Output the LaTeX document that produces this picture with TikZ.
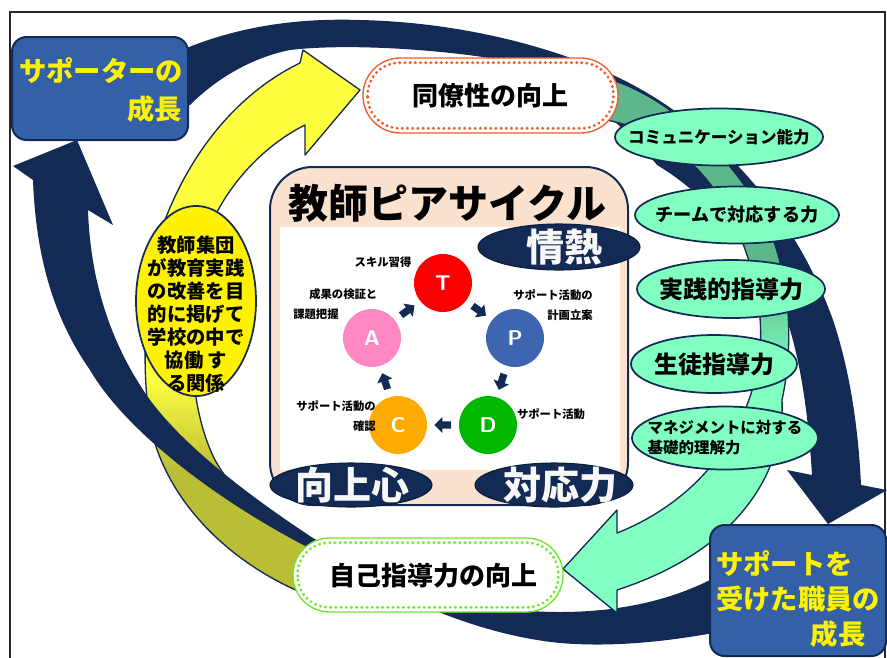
\documentclass[tikz,border=0pt]{standalone}
\usepackage{fontspec}
\setmainfont{Noto Sans CJK JP}[BoldFont={Noto Sans CJK JP Black}]
\usetikzlibrary{shapes.geometric,calc}
\newcommand{\setfs}[2]{\fontsize{#1}{#2}\selectfont}
\definecolor{navy}{RGB}{18,42,84}
\definecolor{boxblue}{RGB}{52,96,168}
\definecolor{peach}{RGB}{251,226,206}
\definecolor{mint}{RGB}{128,255,192}
\definecolor{dkgreen}{RGB}{92,184,138}
\definecolor{ylw}{RGB}{255,255,64}
\definecolor{olv}{RGB}{187,190,52}
\definecolor{orng}{RGB}{240,90,40}
\definecolor{lgreen}{RGB}{110,232,40}
\definecolor{cT}{RGB}{250,0,0}
\definecolor{cP}{RGB}{62,102,176}
\definecolor{cD}{RGB}{0,184,0}
\definecolor{cC}{RGB}{255,170,0}
\definecolor{cA}{RGB}{255,135,195}
\def\navyA{(160,60) .. controls (230,25) and (300,18) .. (360,20) .. controls (450,22) and (540,42) .. (613,75) .. controls (700,115) and (790,200) .. (833,320) .. controls (848,365) and (858,420) .. (861,485) -- (887,490) -- (828,524) -- (787,470) -- (812,475) .. controls (808,410) and (800,360) .. (787,320) .. controls (760,250) and (700,190) .. (657,165) .. controls (620,120) and (560,70) .. (483,57) .. controls (420,48) and (340,44) .. (290,50) .. controls (250,58) and (215,80) .. (190,105) -- (160,105) -- cycle}
\def\navyB{(740,575) -- (710,580) .. controls (670,600) and (620,612) .. (560,612) .. controls (470,612) and (380,585) .. (313,538) .. controls (240,490) and (170,435) .. (140,385) .. controls (105,330) and (90,270) .. (88,210) -- (113,225) -- (77,140) -- (13,166) -- (33,180) .. controls (36,260) and (55,320) .. (90,370) .. controls (125,430) and (215,500) .. (313,550) .. controls (400,600) and (480,635) .. (560,643) .. controls (620,648) and (680,640) .. (740,628) -- cycle}
\def\yelA{(330,603) .. controls (240,575) and (165,505) .. (150,423) .. controls (140,360) and (146,285) .. (162,228) .. controls (190,150) and (240,92) .. (300,63) -- (303,50) -- (360,90) -- (305,155) -- (305,125) .. controls (255,150) and (215,200) .. (202,250) .. controls (188,310) and (185,400) .. (215,460) .. controls (240,505) and (285,532) .. (330,545) -- cycle}
\def\grnA{(595,76) .. controls (650,85) and (720,140) .. (760,210) .. controls (790,265) and (795,340) .. (782,400) .. controls (785,470) and (740,550) .. (617,590) -- (617,613) -- (563,569) -- (617,510) -- (617,533) .. controls (700,500) and (752,430) .. (760,350) .. controls (765,290) and (740,215) .. (700,172) .. controls (670,140) and (640,125) .. (595,118) -- cycle}
\begin{document}
\begin{tikzpicture}[x=0.75pt,y=-0.75pt,
  every node/.style={inner sep=0pt},
  pill/.style={draw=#1, line width=1pt, fill=white},
  dotrim/.style={draw=#1, line width=2.4pt, dash pattern=on 0pt off 3.9pt, line cap=round},
  growbox/.style={draw=navy, line width=1.5pt, fill=boxblue, rounded corners=11pt},
  growtxt/.style={text=yellow, font=\bfseries\setfs{20.5}{28.5}},
  darkell/.style={ellipse, fill=navy, draw=navy!70!black, line width=0.8pt},
  darktxt/.style={text=white!94!gray, font=\bfseries\setfs{28.5}{30}},
  mintell/.style={ellipse, fill=mint, draw=navy, line width=1.3pt},
  pdca/.style={circle, minimum size=43.5pt, fill=#1, text=white, font=\sffamily\bfseries\setfs{16}{16}},
  small/.style={font=\bfseries\setfs{8.5}{14.5}},
  pilltxt/.style={font=\bfseries\setfs{19.5}{20}},
]
\useasboundingbox (0,0) rectangle (887,657);
\clip (0,0) rectangle (887,657);
\fill[white] (0,0) rectangle (887,657);
% frame
\draw[line width=1.6pt, black!85] (10,700) -- (10,12) -- (885,12) -- (885,700);

% yellow arrow
\begin{scope}
  \clip \yelA;
  \fill[olv] (0,0) rectangle (887,657);
  \fill[ylw] (0,0) rectangle (420,380);
  \shade[top color=ylw, bottom color=olv] (0,379) rectangle (420,470);
\end{scope}
\draw[navy, line width=1pt, line join=round] \yelA;

% big navy arrows
\fill[navy] \navyA;
\fill[navy] \navyB;

% green arrow
\begin{scope}
  \clip \grnA;
  \fill[mint] (0,0) rectangle (887,657);
  \fill[dkgreen] (500,0) rectangle (887,270);
  \shade[top color=dkgreen, bottom color=mint] (500,269) rectangle (887,380);
\end{scope}
\draw[navy, line width=1pt, line join=round] \grnA;

% growth boxes
\node[growbox, minimum width=132pt, minimum height=77.25pt] (sup) at (100,88.5) {};
\node[growtxt, align=right, text width=122pt, anchor=east] (suptxt) at (182,90) {サポーターの\\成長};
\node[growbox, minimum width=132pt, minimum height=98.25pt] (rec) at (798,590.5) {};
\node[growtxt, align=left, text width=124pt, anchor=west, font=\bfseries\setfs{20.5}{26}] (rectxt) at (716,599) {サポートを\\受けた職員の\\\hfill 成長\hspace*{12pt}};

% pills
\node[pill=orng, rounded corners=28pt, minimum width=191.25pt, minimum height=56.25pt] (dom) at (490.5,95.5) {};
\draw[dotrim=orng, rounded corners=24pt] ($(dom.south west)+(4pt,4pt)$) rectangle ($(dom.north east)+(-4pt,-4pt)$);
\node[pilltxt] (domtxt) at (490,96) {同僚性の向上};
\node[pill=lgreen, rounded corners=27.5pt, minimum width=202.5pt, minimum height=55.5pt] (jiko) at (428,575) {};
\draw[dotrim=lgreen, rounded corners=23.5pt] ($(jiko.south west)+(4pt,4pt)$) rectangle ($(jiko.north east)+(-4pt,-4pt)$);
\node[pilltxt] (jikotxt) at (433,576) {自己指導力の向上};

% yellow ellipse
\node[ellipse, fill=yellow, draw=navy, line width=1.3pt, minimum width=90pt, minimum height=142.5pt] (kyo) at (196,301) {};
\node[align=center, font=\bfseries\setfs{14.5}{17.3}] (kyotxt) at (196,314) {教師集団\\が教育実践\\の改善を目\\的に掲げて\\学校の中で\\協働 す\\る関係};

% central box
\node[draw=navy, line width=1.5pt, fill=peach, rounded corners=32pt, minimum width=268.5pt, minimum height=253.5pt] (cyc) at (449,336) {};
\node[fill=white, minimum width=255pt, minimum height=182.25pt] (inner) at (450,348.5) {};
\node[font=\bfseries\setfs{30}{30}] (title) at (447,203) {教師ピアサイクル};
\node[darkell, minimum width=121.5pt, minimum height=34.5pt, label={[darktxt, xshift=4pt]center:情熱}] (jn) at (559,247) {};
\node[darkell, minimum width=121.5pt, minimum height=33pt, label={[darktxt, xshift=1pt]center:向上心}] (ks) at (351,485) {};
\node[darkell, minimum width=118.5pt, minimum height=33pt, label={[darktxt, xshift=5pt]center:対応力}] (tr) at (554,485) {};

% PDCA-like cycle
\node[pdca=cT] (T) at (443,283) {T};
\node[pdca=cP] (P) at (515,338) {P};
\node[pdca=cD] (D) at (488,425) {D};
\node[pdca=cC] (C) at (398,425) {C};
\node[pdca=cA] (A) at (372,338) {A};
\foreach \a/\b/\ang in {T/P/-36,P/D/-108,D/C/180,C/A/108,A/T/36}{
  \coordinate (m\a) at ($(\a)!0.5!(\b)$);
  \fill[navy, shift={(m\a)}, rotate=\ang] (-6pt,-2.7pt) -- (0.5pt,-2.7pt) -- (0.5pt,-6pt) -- (6.5pt,0pt) -- (0.5pt,6pt) -- (0.5pt,2.7pt) -- (-6pt,2.7pt) -- cycle;
}
\node[small] (lT) at (383,262) {スキル習得};
\node[small, align=right, anchor=east] (lP) at (593,305) {サポート活動の\\計画立案};
\node[small] (lD) at (551,414) {サポート活動};
\node[small, align=right, anchor=east] (lC) at (376,416) {サポート活動の\\確認};
\node[small, align=left, anchor=west] (lA) at (293,304) {\hspace*{12pt}成果の検証と\\課題把握};

% abilities
\node[mintell, minimum width=156pt, minimum height=42.75pt, label={[font=\bfseries\setfs{12.4}{13}]center:コミュニケーション能力}] (e1) at (719,137) {};
\node[mintell, minimum width=153pt, minimum height=42.75pt, label={[font=\bfseries\setfs{13.6}{14}]center:チームで対応する力}] (e2) at (737,215) {};
\node[mintell, minimum width=141pt, minimum height=43.5pt, label={[font=\bfseries\setfs{18}{18}]center:実践的指導力}] (e3) at (731,289) {};
\node[mintell, minimum width=124.5pt, minimum height=43.5pt, label={[font=\bfseries\setfs{18}{18}]center:生徒指導力}] (e4) at (714,364) {};
\node[mintell, minimum width=139.5pt, minimum height=47.25pt, label={[align=left, font=\bfseries\setfs{11.6}{15}]center:マネジメントに対する\\基礎的理解力}] (e5) at (725,438) {};
\end{tikzpicture}
\end{document}
